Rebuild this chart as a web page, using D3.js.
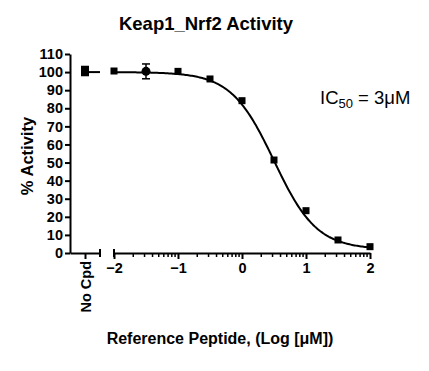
<!DOCTYPE html>
<html lang="en">
<head>
<meta charset="utf-8">
<title>Keap1_Nrf2 Activity</title>
<script src="https://d3js.org/d3.v7.min.js"></script>
<style>
  body { margin: 0; background: #fff; }
  text { font-family: Arial, "Liberation Sans", sans-serif; fill: #000; }
  .axis text { font-weight: bold; font-size: 14.5px; }
  .axis path, .axis line { stroke: #000; stroke-width: 2px; }
</style>
</head>
<body>
<script>
// measured points, log [uM] vs % activity
var logConc = [-2, -1.5, -1, -0.5, 0, 0.5, 1, 1.5, 2];
var activity = [100.6, 100.4, 100.4, 96.2, 84.2, 51.4, 23.4, 7.2, 3.5];
var activityErr = [0, 4.1, 0, 0, 0, 0, 0, 0, 0];
var markerShape = ["square", "circle", "square", "square", "square", "square", "square", "square", "square"];
// control without compound
var ctrlLabel = ["No Cpd"];
var ctrlValue = [100.6];
var ctrlErr = [2.5];
// four parameter fit
var fitTop = 100, fitBottom = 2, fitLogIC50 = 0.5, fitHill = 1.3;
var xTicks = [-2, -1, 0, 1, 2];
var yTicks = d3.range(0, 111, 10);

var W = 429, H = 371;
var svg = d3.select("body").append("svg")
    .attr("width", W)
    .attr("height", H);

var y = d3.scaleLinear().domain([0, 110]).range([253, 54]);
var x = d3.scaleLinear().domain([-2, 2]).range([114, 370]);
var xc = d3.scalePoint().domain(ctrlLabel).range([70, 100]).padding(0.5);

// title
svg.append("text")
    .attr("x", 206).attr("y", 30)
    .attr("text-anchor", "middle")
    .style("font-size", "18.5px")
    .style("font-weight", "bold")
    .text("Keap1_Nrf2 Activity");

// y axis
var yAxis = svg.append("g")
    .attr("class", "axis")
    .attr("transform", "translate(70,0)")
    .call(d3.axisLeft(y).tickValues(yTicks).tickSize(5).tickSizeOuter(0).tickPadding(2));

// x axis, control part
var xcAxis = svg.append("g")
    .attr("class", "axis")
    .attr("transform", "translate(0,253)")
    .call(d3.axisBottom(xc).tickSize(6).tickSizeOuter(0));
xcAxis.selectAll(".tick text")
    .attr("transform", "rotate(-90)")
    .attr("text-anchor", "end")
    .attr("x", -8).attr("y", 0).attr("dy", "0.35em");
xcAxis.append("line")
    .attr("x1", 100).attr("x2", 100).attr("y1", -4).attr("y2", 4);

// x axis, log part
var xAxis = svg.append("g")
    .attr("class", "axis")
    .attr("transform", "translate(0,253)")
    .call(d3.axisBottom(x).tickValues(xTicks).tickFormat(d3.format("d")).tickSize(6).tickSizeOuter(0).tickPadding(4));
xAxis.append("line")
    .attr("x1", 114).attr("x2", 114).attr("y1", -4).attr("y2", 4);

var minor = [];
xTicks.slice(0, -1).forEach(function(t) {
  d3.range(2, 10).forEach(function(m) { minor.push(t + Math.log10(m)); });
});
xAxis.selectAll(".minor")
    .data(minor)
    .enter().append("line")
    .attr("class", "minor")
    .attr("x1", function(d) { return x(d); })
    .attr("x2", function(d) { return x(d); })
    .attr("y1", 0).attr("y2", 4)
    .style("stroke-width", "1.5px");

// fitted curve
var fit = function(v) {
  return fitBottom + (fitTop - fitBottom) / (1 + Math.pow(10, fitHill * (v - fitLogIC50)));
};
svg.append("path")
    .datum(d3.range(-2, 2.001, 0.02))
    .attr("fill", "none")
    .attr("stroke", "#000")
    .attr("stroke-width", 2)
    .attr("d", d3.line().x(function(d) { return x(d); }).y(function(d) { return y(fit(d)); }));

// control line and point
svg.append("line")
    .attr("x1", xc(ctrlLabel[0])).attr("x2", 100)
    .attr("y1", y(100)).attr("y2", y(100))
    .attr("stroke", "#000").attr("stroke-width", 2);

function errorBar(g, cx, v, e) {
  if (!e) return;
  g.append("line").attr("x1", cx).attr("x2", cx).attr("y1", y(v + e)).attr("y2", y(v - e))
      .attr("stroke", "#000").attr("stroke-width", 1.5);
  [v + e, v - e].forEach(function(w) {
    g.append("line").attr("x1", cx - 4).attr("x2", cx + 4).attr("y1", y(w)).attr("y2", y(w))
        .attr("stroke", "#000").attr("stroke-width", 1.5);
  });
}

var marks = svg.append("g");
ctrlValue.forEach(function(v, i) {
  var cx = xc(ctrlLabel[i]);
  errorBar(marks, cx, v, ctrlErr[i]);
  marks.append("rect").attr("x", cx - 4).attr("y", y(v) - 4).attr("width", 8).attr("height", 8);
});
logConc.forEach(function(c, i) {
  var cx = x(c), cy = y(activity[i]);
  errorBar(marks, cx, activity[i], activityErr[i]);
  if (markerShape[i] === "circle") {
    marks.append("circle").attr("cx", cx).attr("cy", cy).attr("r", 4.5);
  } else {
    marks.append("rect").attr("x", cx - 3.5).attr("y", cy - 3.5).attr("width", 7).attr("height", 7);
  }
});

// IC50 note
var note = svg.append("text")
    .attr("x", 320).attr("y", 104)
    .style("font-size", "18.5px");
note.append("tspan").text("IC");
note.append("tspan").attr("dy", 4).style("font-size", "13px").text("50");
note.append("tspan").attr("dy", -4).text(" = 3\u03bcM");

// axis titles
svg.append("text")
    .attr("transform", "translate(33,156) rotate(-90)")
    .attr("text-anchor", "middle")
    .style("font-size", "16.5px")
    .style("font-weight", "bold")
    .text("% Activity");

svg.append("text")
    .attr("x", 220).attr("y", 344)
    .attr("text-anchor", "middle")
    .style("font-size", "16px")
    .style("font-weight", "bold")
    .text("Reference Peptide, (Log [\u03bcM])");
</script>
</body>
</html>
